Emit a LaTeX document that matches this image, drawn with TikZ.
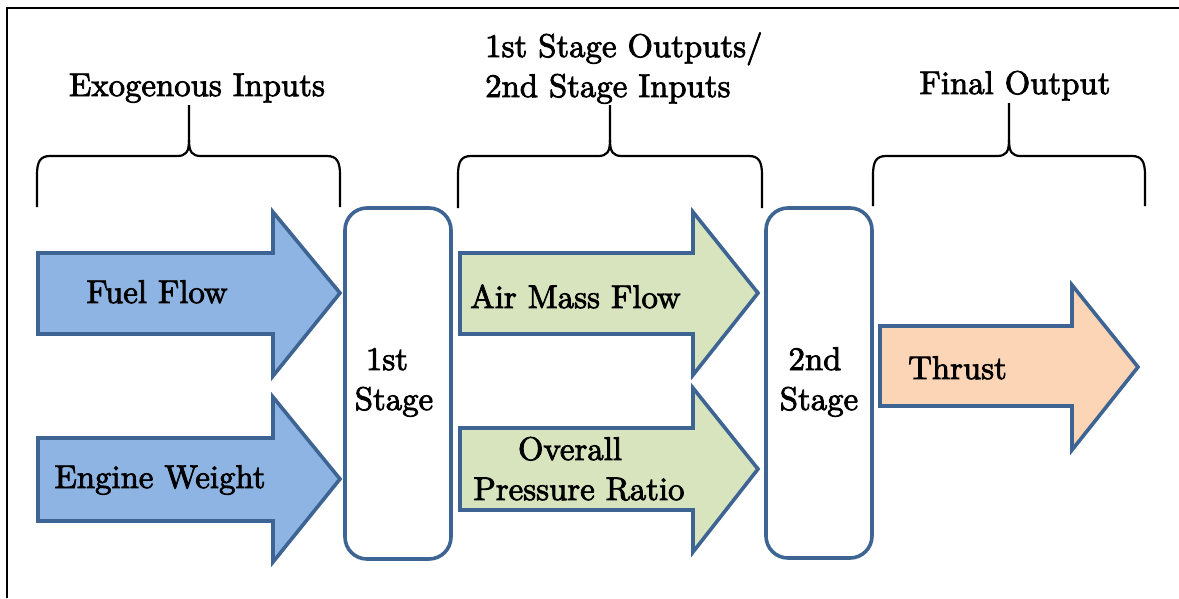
\documentclass[tikz,border=0pt]{standalone}
\usepackage{fontspec}
\newfontfamily\lblfont{lmroman10-regular.otf}[FakeBold=2.5]
\definecolor{bluefill}{RGB}{142,180,227}
\definecolor{greenfill}{RGB}{215,228,189}
\definecolor{orangefill}{RGB}{251,213,181}
\definecolor{edgeblue}{RGB}{61,100,146}
\tikzset{
  lbl/.style={font=\lblfont\fontsize{32.8}{40}\selectfont, inner sep=0pt, anchor=base},
  bigarrow/.style={draw=edgeblue, line width=3.6pt, line join=miter},
  stagebox/.style={draw=edgeblue, line width=3.6pt, rounded corners=22pt},
  brace/.style={draw=black, line width=2.2pt, line cap=butt}
}
\begin{document}
\begin{tikzpicture}[x=1pt,y=-1pt]
\useasboundingbox (0,0) rectangle (1179,598);
% frame
\draw[line width=2pt] (7,598) -- (7,8) -- (1179,8);

% braces
\draw[brace] (37,207) -- (37,175) .. controls (37,162) and (40,156) .. (50,156) -- (177,156) .. controls (186,156) and (189,152) .. (189,140) -- (189,105);
\draw[brace] (340,207) -- (340,175) .. controls (340,162) and (337,156) .. (327,156) -- (201,156) .. controls (192,156) and (189,152) .. (189,140);
\draw[brace] (458,208) -- (458,175) .. controls (458,162) and (461,156) .. (471,156) -- (598,156) .. controls (607,156) and (610,152) .. (610,140) -- (610,105);
\draw[brace] (762,208) -- (762,175) .. controls (762,162) and (759,156) .. (749,156) -- (622,156) .. controls (613,156) and (610,152) .. (610,140);
\draw[brace] (873,206) -- (873,175) .. controls (873,162) and (876,156) .. (886,156) -- (997,156) .. controls (1006,156) and (1009,152) .. (1009,140) -- (1009,103);
\draw[brace] (1145,206) -- (1145,175) .. controls (1145,162) and (1142,156) .. (1132,156) -- (1021,156) .. controls (1012,156) and (1009,152) .. (1009,140);

% heading labels
\node[lbl] (exo) at (197,96) {Exogenous Inputs};
\node[lbl, anchor=base west] (mid1) at (485,57) {1st Stage Outputs/};
\node[lbl, anchor=base west] (mid2) at (485,97) {2nd Stage Inputs};
\node[lbl] (fin) at (1015,94) {Final Output};

% blue input arrows
\draw[bigarrow, fill=bluefill] (38,253) -- (273,253) -- (273,212) -- (340,293) -- (273,376) -- (273,334) -- (38,334) -- cycle;
\draw[bigarrow, fill=bluefill] (38,438) -- (273,438) -- (273,397) -- (340,479) -- (273,562) -- (273,521) -- (38,521) -- cycle;
\node[lbl] (fuel) at (157,303) {Fuel Flow};
\node[lbl] (weight) at (160,488) {Engine Weight};

% stage boxes
\draw[stagebox] (345,208) rectangle (451,559);
\node[lbl] (s1a) at (387,370) {1st};
\node[lbl] (s1b) at (394,410) {Stage};
\draw[stagebox] (766,208) rectangle (872,558);
\node[lbl] (s2a) at (815,370) {2nd};
\node[lbl] (s2b) at (819,410) {Stage};

% green intermediate arrows
\draw[bigarrow, fill=greenfill] (460,253) -- (693,253) -- (693,212) -- (758,293) -- (693,375) -- (693,334) -- (460,334) -- cycle;
\draw[bigarrow, fill=greenfill] (460,428) -- (693,428) -- (693,388) -- (758,469) -- (693,552) -- (693,510) -- (460,510) -- cycle;
\node[lbl, anchor=base west] (air) at (470,308) {Air Mass Flow};
\node[lbl] (opr1) at (570,460) {Overall};
\node[lbl] (opr2) at (579,500) {Pressure Ratio};

% thrust arrow
\draw[bigarrow, fill=orangefill] (880,326) -- (1072,326) -- (1072,285) -- (1138,367) -- (1072,450) -- (1072,406) -- (880,406) -- cycle;
\node[lbl, anchor=base west] (thr) at (908,379) {Thrust};
\end{tikzpicture}
\end{document}
